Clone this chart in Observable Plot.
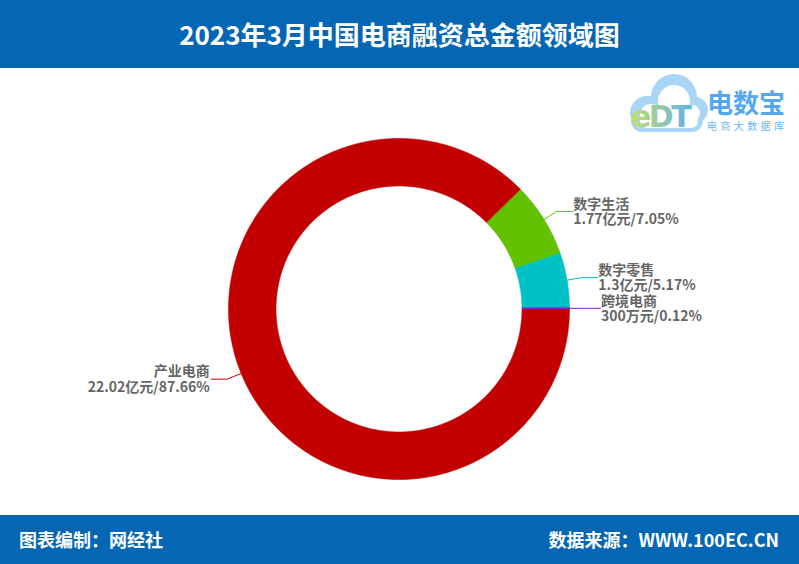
<!DOCTYPE html>
<html>
<head>
<meta charset="utf-8">
<script src="https://cdn.jsdelivr.net/npm/d3@7"></script>
<script src="https://cdn.jsdelivr.net/npm/@observablehq/plot@0.6"></script>
<style>
  html, body { margin: 0; padding: 0; background: #fff; }
  body { width: 799px; height: 564px; position: relative; overflow: hidden;
         font-family: "Noto Sans CJK SC", "Noto Sans", sans-serif; }
  #header { height: 68px; background: #0567b4; color: #fff; text-align: center;
            font-weight: bold; font-size: 26px; line-height: 68px; }
  #footer { height: 49px; background: #0567b4; color: #fff; font-weight: bold; font-size: 18px;
            line-height: 49px; position: relative; }
  #footer .l { position: absolute; left: 19px; top: 0; }
  #footer .r { position: absolute; right: 20px; top: 0; }
  #chart svg { display: block; }
  #logo { position: absolute; left: 622px; top: 70px; width: 175px; height: 70px; }
</style>
</head>
<body>
<div id="header">2023年3月中国电商融资总金额领域图</div>
<div id="chart"></div>
<div id="footer"><span class="l">图表编制：网经社</span><span class="r">数据来源：WWW.100EC.CN</span></div>
<div id="logo">
  <svg width="175" height="70" viewBox="0 0 175 70">
    <defs>
      <linearGradient id="g1" x1="0" y1="0" x2="1" y2="0">
        <stop offset="0" stop-color="#c5df6a"/>
        <stop offset="1" stop-color="#5fb2ea"/>
      </linearGradient>
    </defs>
    <g fill="#a9d5f7">
      <circle cx="52" cy="27" r="23"/>
      <circle cx="25" cy="43" r="17"/>
      <circle cx="73" cy="40" r="13"/>
      <rect x="9" y="40" width="72" height="22" rx="11"/>
    </g>
    <g fill="#ffffff">
      <circle cx="52" cy="31" r="16"/>
      <circle cx="29" cy="45" r="11"/>
      <circle cx="70" cy="43" r="8"/>
      <rect x="18" y="41" width="58" height="17" rx="7"/>
    </g>
    <text x="9" y="57" font-family="DejaVu Sans" font-weight="bold" font-size="30" fill="url(#g1)" letter-spacing="-2.5">eDT</text>
    <text x="85" y="43" font-family="Noto Sans CJK SC" font-weight="bold" font-size="26" fill="#55a8ef">电数宝</text>
    <text x="85" y="60" font-family="Noto Sans CJK SC" font-size="10" fill="#6cb4ef" letter-spacing="3.4">电商大数据库</text>
  </svg>
</div>
<script>
// ---- data ----
const categories = ["产业电商", "数字生活", "数字零售", "跨境电商"];
const amounts = ["22.02亿元", "1.77亿元", "1.3亿元", "300万元"];
const shares = [87.66, 7.05, 5.17, 0.12];
const palette = ["#c20000", "#62c100", "#00c1c4", "#7a22d6"];

// ---- layout ----
const W = 799, H = 447;
const cx = 398.5, cy = 240.5;       // donut centre inside the svg (pixels)
const R = 170.5, r0 = 123;          // outer / inner radius
const startAngle = 90;              // degrees clockwise from 12 o'clock
const len1 = 15, len2 = 16;         // label leader line lengths

const total = d3.sum(shares);
const rad = a => a * Math.PI / 180;
const pt = (a, rr) => ({x: rr * Math.sin(rad(a)), y: rr * Math.cos(rad(a))});

const slices = [];
let acc = 0;
categories.forEach((name, i) => {
  const a0 = startAngle + acc / total * 360;
  acc += shares[i];
  const a1 = startAngle + acc / total * 360;
  slices.push({name, i, a0, a1, mid: (a0 + a1) / 2});
});

const ring = [];
for (const s of slices) {
  const n = Math.max(2, Math.ceil((s.a1 - s.a0) / 0.5));
  for (let k = 0; k <= n; k++) ring.push({name: s.name, ...pt(s.a0 + (s.a1 - s.a0) * k / n, R)});
  for (let k = n; k >= 0; k--) ring.push({name: s.name, ...pt(s.a0 + (s.a1 - s.a0) * k / n, r0)});
}

const leaders = [];
const labels = [];
for (const s of slices) {
  const p0 = pt(s.mid, R);
  const p1 = pt(s.mid, R + len1);
  const right = Math.sin(rad(s.mid)) >= 0;
  const p2 = {x: p1.x + (right ? len2 : -len2), y: p1.y};
  leaders.push({name: s.name, ...p0}, {name: s.name, ...p1}, {name: s.name, ...p2});
  labels.push({
    name: s.name, right,
    x: p2.x + (right ? 0.5 : -1.5), y: p2.y,
    text: `${s.name}\n${amounts[s.i]}/${shares[s.i].toFixed(2)}%`
  });
}

const chart = Plot.plot({
  width: W, height: H,
  margin: 0,
  x: {domain: [-cx, W - cx], axis: null},
  y: {domain: [-(H - cy), cy], axis: null},
  color: {domain: categories, range: palette},
  style: {fontFamily: "'Noto Sans CJK SC', 'Noto Sans', sans-serif", background: "#fff"},
  marks: [
    Plot.line(ring, {x: "x", y: "y", z: "name", fill: "name", stroke: "name", strokeWidth: 0.6, curve: "linear-closed"}),
    Plot.line(leaders, {x: "x", y: "y", z: "name", stroke: "name", strokeWidth: 1}),
    Plot.text(labels.filter(d => d.right), {x: "x", y: "y", text: "text", textAnchor: "start",
      fontSize: 14, fontWeight: "bold", fill: "#666", lineHeight: 1.08}),
    Plot.text(labels.filter(d => !d.right), {x: "x", y: "y", text: "text", textAnchor: "end",
      fontSize: 14, fontWeight: "bold", fill: "#666", lineHeight: 1.08})
  ]
});
document.getElementById("chart").appendChild(chart);
</script>
</body>
</html>
